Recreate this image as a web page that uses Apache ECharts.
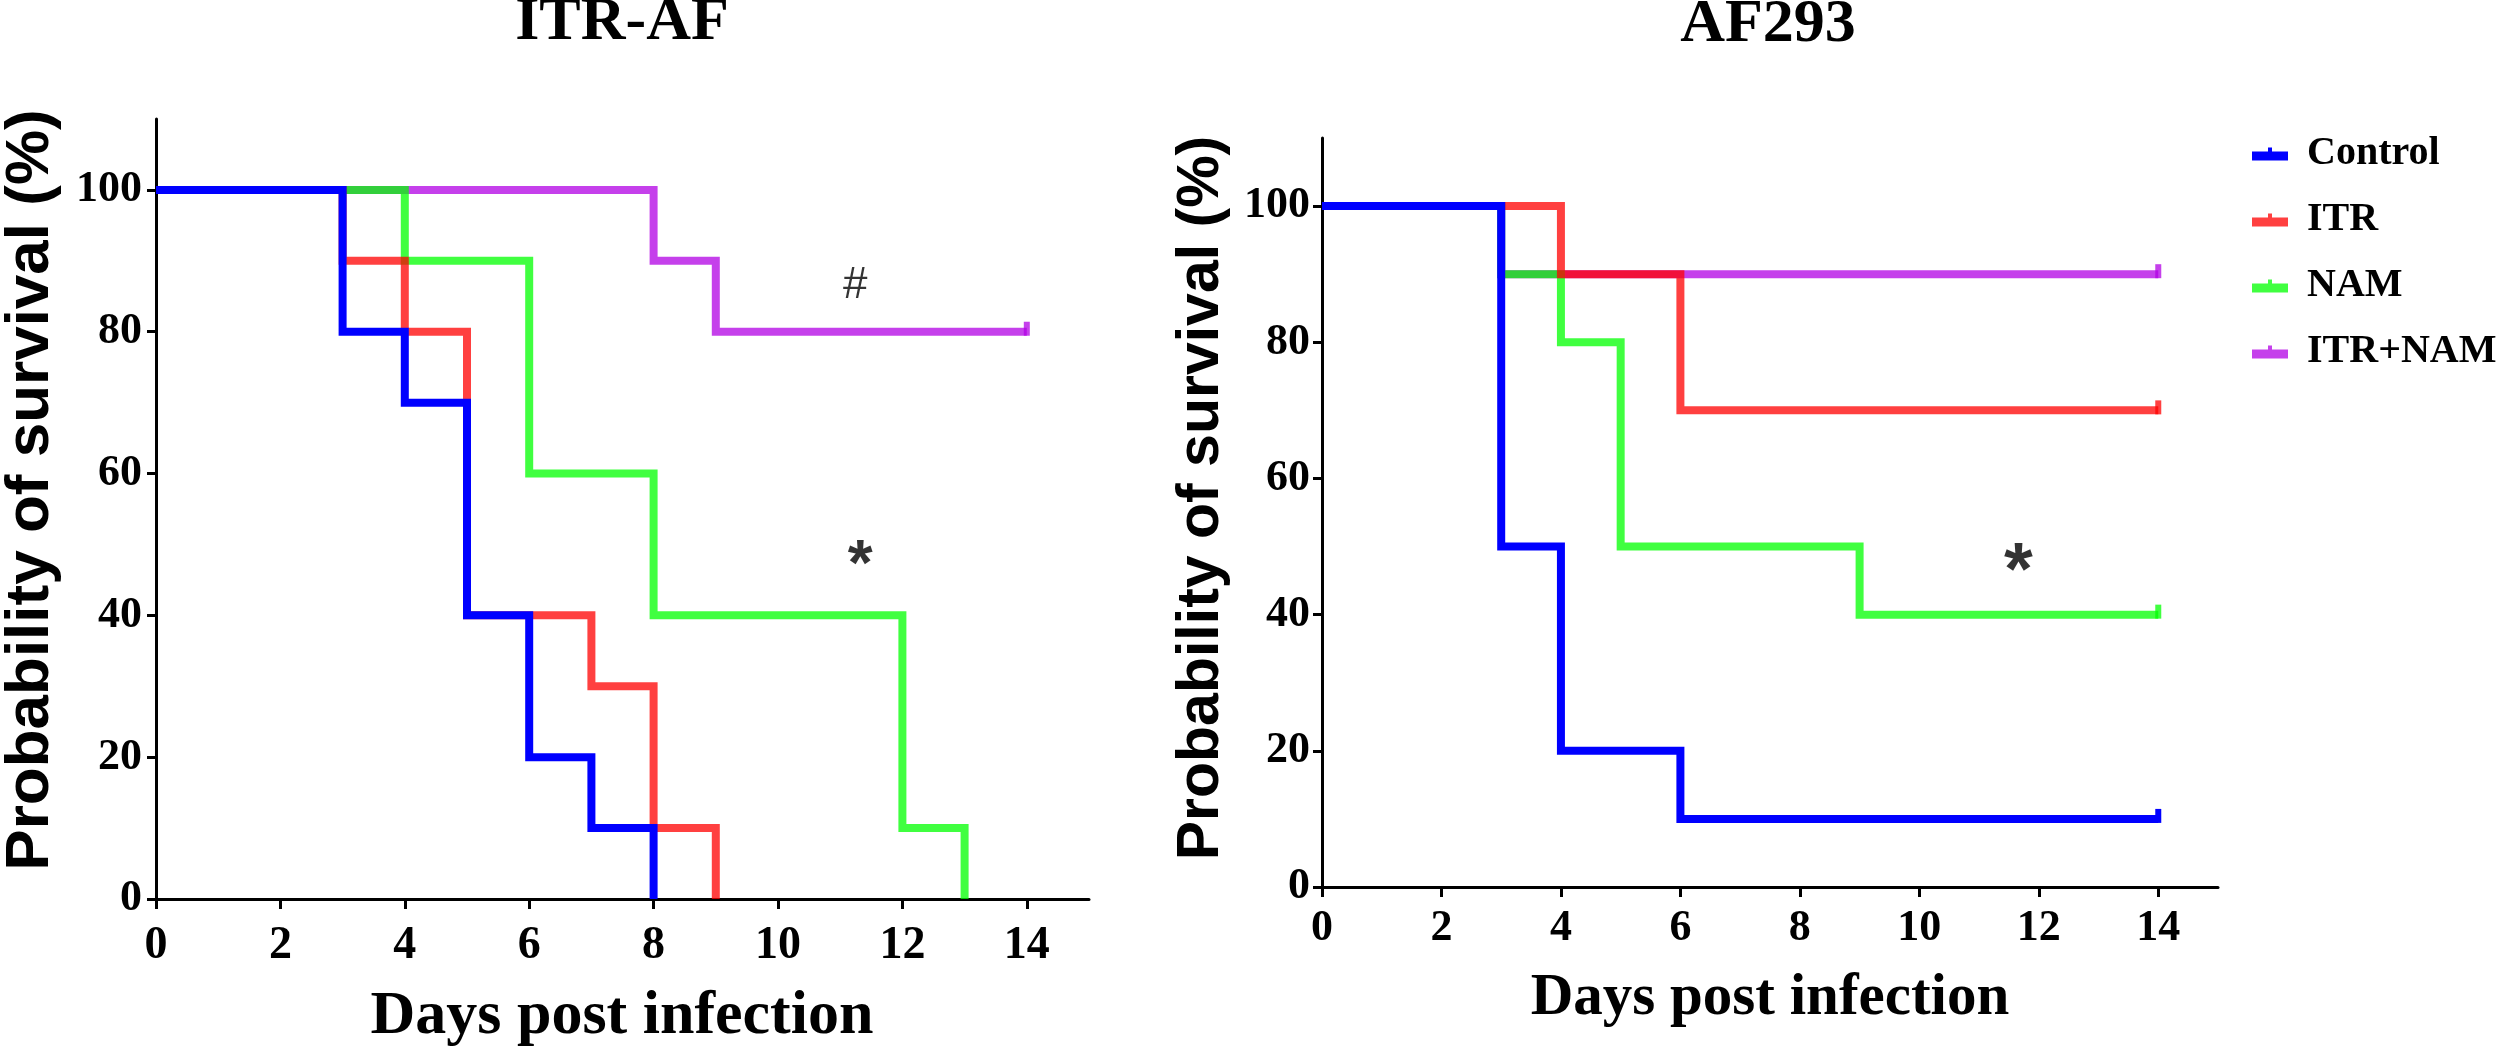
<!DOCTYPE html>
<html>
<head>
<meta charset="utf-8">
<script src="https://cdn.jsdelivr.net/npm/echarts@6/dist/echarts.min.js"></script>
<style>
html,body{margin:0;padding:0;background:#fff;}
#chart{width:2500px;height:1051px;}
</style>
</head>
<body>
<div id="chart"></div>
<script>
// ---------- DATA ----------
const groupNames = ['Control', 'ITR', 'NAM', 'ITR+NAM'];
const panelTitles = ['ITR-AF', 'AF293'];
const xTicks = [0, 2, 4, 6, 8, 10, 12, 14];
const yTicks = [0, 20, 40, 60, 80, 100];

// ITR-AF panel (days at which survival steps, survival % after step)
const itrafControlDays = [0, 3, 4, 5, 6, 7, 8];
const itrafControlSurv = [100, 80, 70, 40, 20, 10, 0];
const itrafItrDays = [0, 3, 4, 5, 7, 8, 9];
const itrafItrSurv = [100, 90, 80, 40, 30, 10, 0];
const itrafNamDays = [0, 4, 6, 8, 12, 13];
const itrafNamSurv = [100, 90, 60, 40, 10, 0];
const itrafComboDays = [0, 8, 9, 14];
const itrafComboSurv = [100, 90, 80, 80];

// AF293 panel
const af293ControlDays = [0, 3, 4, 6, 14];
const af293ControlSurv = [100, 50, 20, 10, 10];
const af293ItrDays = [0, 4, 6, 14];
const af293ItrSurv = [100, 90, 70, 70];
const af293NamDays = [0, 3, 4, 5, 9, 14];
const af293NamSurv = [100, 90, 80, 50, 40, 40];
const af293ComboDays = [0, 3, 14];
const af293ComboSurv = [100, 90, 90];

// annotations (text, day, survival)
const itrafAnnotations = [['#', 11.24, 86.5], ['*', 11.32, 46.7]];
const af293Annotations = [['*', 11.66, 46.1]];

// ---------- STYLE ----------
const colors = ['#0000ff', 'rgba(255,0,0,0.75)', 'rgba(0,255,0,0.75)', 'rgba(178,0,228,0.75)'];
const zOrder = [5, 4, 3, 2];
const SERIF = '"Liberation Serif", "Times New Roman", serif';
const SANS = '"Liberation Sans", Arial, sans-serif';

function toData(days, surv, censoredEnd) {
  const out = days.map((d, i) => [d, surv[i]]);
  if (censoredEnd) {
    const last = out.pop();
    out.push({ value: last, symbol: 'rect', symbolSize: [6, 14], symbolOffset: [0, -3] });
  }
  return out;
}

const panels = [
  [[itrafControlDays, itrafControlSurv], [itrafItrDays, itrafItrSurv], [itrafNamDays, itrafNamSurv], [itrafComboDays, itrafComboSurv]],
  [[af293ControlDays, af293ControlSurv], [af293ItrDays, af293ItrSurv], [af293NamDays, af293NamSurv], [af293ComboDays, af293ComboSurv]]
];

const series = [];
panels.forEach((panel, p) => {
  panel.forEach(([d, s], k) => {
    const censored = d[d.length - 1] === 14 && s[s.length - 1] > 0;
    series.push({
      type: 'line', name: groupNames[k], xAxisIndex: p, yAxisIndex: p,
      step: 'end', symbol: 'none', showSymbol: true, z: zOrder[k],
      color: colors[k],
      lineStyle: { width: 8, color: colors[k], join: 'miter', cap: 'butt' },
      itemStyle: { color: colors[k] },
      data: toData(d, s, censored), silent: true, animation: false
    });
  });
});

function annSeries(list, p, sizes) {
  return {
    type: 'scatter', xAxisIndex: p, yAxisIndex: p, silent: true, animation: false,
    symbolSize: 1, itemStyle: { color: 'transparent' }, z: 10,
    data: list.map(([t, x, y]) => ({
      value: [x, y],
      label: {
        show: true, position: 'inside', formatter: t, color: '#000',
        fontFamily: SANS, fontSize: sizes[t], fontWeight: t === '*' ? 'bold' : 'normal'
      }
    }))
  };
}
series.push(annSeries(itrafAnnotations, 0, { '#': 44, '*': 64 }));
series.push(annSeries(af293Annotations, 1, { '*': 74 }));

function xAxis(gi, fs) {
  return {
    type: 'value', gridIndex: gi, min: 0, max: 15,
    axisLine: { show: true, lineStyle: { color: '#000', width: 3 } },
    axisTick: { show: true, length: 10, lineStyle: { width: 3, color: '#000' }, customValues: xTicks },
    axisLabel: { customValues: xTicks, color: '#000', fontFamily: SERIF, fontWeight: 'bold', fontSize: fs, margin: gi === 0 ? 24 : 20 },
    splitLine: { show: false }
  };
}
function yAxis(gi, margin) {
  return {
    type: 'value', gridIndex: gi, min: 0, max: 110,
    axisLine: { show: true, lineStyle: { color: '#000', width: 3 } },
    axisTick: { show: true, length: 9, lineStyle: { width: 3, color: '#000' }, customValues: yTicks },
    axisLabel: { customValues: yTicks, color: '#000', fontFamily: SERIF, fontWeight: 'bold', fontSize: 44, margin: margin },
    splitLine: { show: false }
  };
}

const option = {
  backgroundColor: '#fff',
  animation: false,
  grid: [
    { left: 156, top: 119, width: 933, height: 780 },
    { left: 1322, top: 138, width: 896, height: 749 }
  ],
  xAxis: [xAxis(0, 46), xAxis(1, 44)],
  yAxis: [yAxis(0, 14), yAxis(1, 12)],
  legend: {
    data: groupNames, orient: 'vertical', left: 2247, top: 129,
    itemWidth: 36, itemHeight: 13, itemGap: 26,
    icon: 'path://M0,4 L36,4 L36,13 L0,13 Z M16,0 L20,0 L20,4 L16,4 Z',
    textStyle: { fontFamily: SERIF, fontWeight: 'bold', fontSize: 40, lineHeight: 40, color: '#000', padding: [0, 0, 0, 14] },
    selectedMode: false
  },
  graphic: [
    { type: 'text', x: 622, y: 23, style: { text: panelTitles[0], font: 'bold 62px ' + SERIF, fill: '#000', align: 'center', verticalAlign: 'middle' } },
    { type: 'text', x: 1768, y: 25, style: { text: panelTitles[1], font: 'bold 62px ' + SERIF, fill: '#000', align: 'center', verticalAlign: 'middle' } },
    { type: 'text', x: 622, y: 1017, style: { text: 'Days post infection', font: 'bold 62px ' + SERIF, fill: '#000', align: 'center', verticalAlign: 'middle' } },
    { type: 'text', x: 1770, y: 999, style: { text: 'Days post infection', font: 'bold 59px ' + SERIF, fill: '#000', align: 'center', verticalAlign: 'middle' } },
    { type: 'text', x: 31, y: 490, rotation: Math.PI / 2, style: { text: 'Probability of survival (%)', font: 'bold 62px ' + SANS, fill: '#000', align: 'center', verticalAlign: 'middle' } },
    { type: 'text', x: 1202, y: 498, rotation: Math.PI / 2, style: { text: 'Probability of survival (%)', font: 'bold 59px ' + SANS, fill: '#000', align: 'center', verticalAlign: 'middle' } }
  ],
  series: series
};

const chart = echarts.init(document.getElementById('chart'), null, { renderer: 'canvas' });
chart.setOption(option);
</script>
</body>
</html>
